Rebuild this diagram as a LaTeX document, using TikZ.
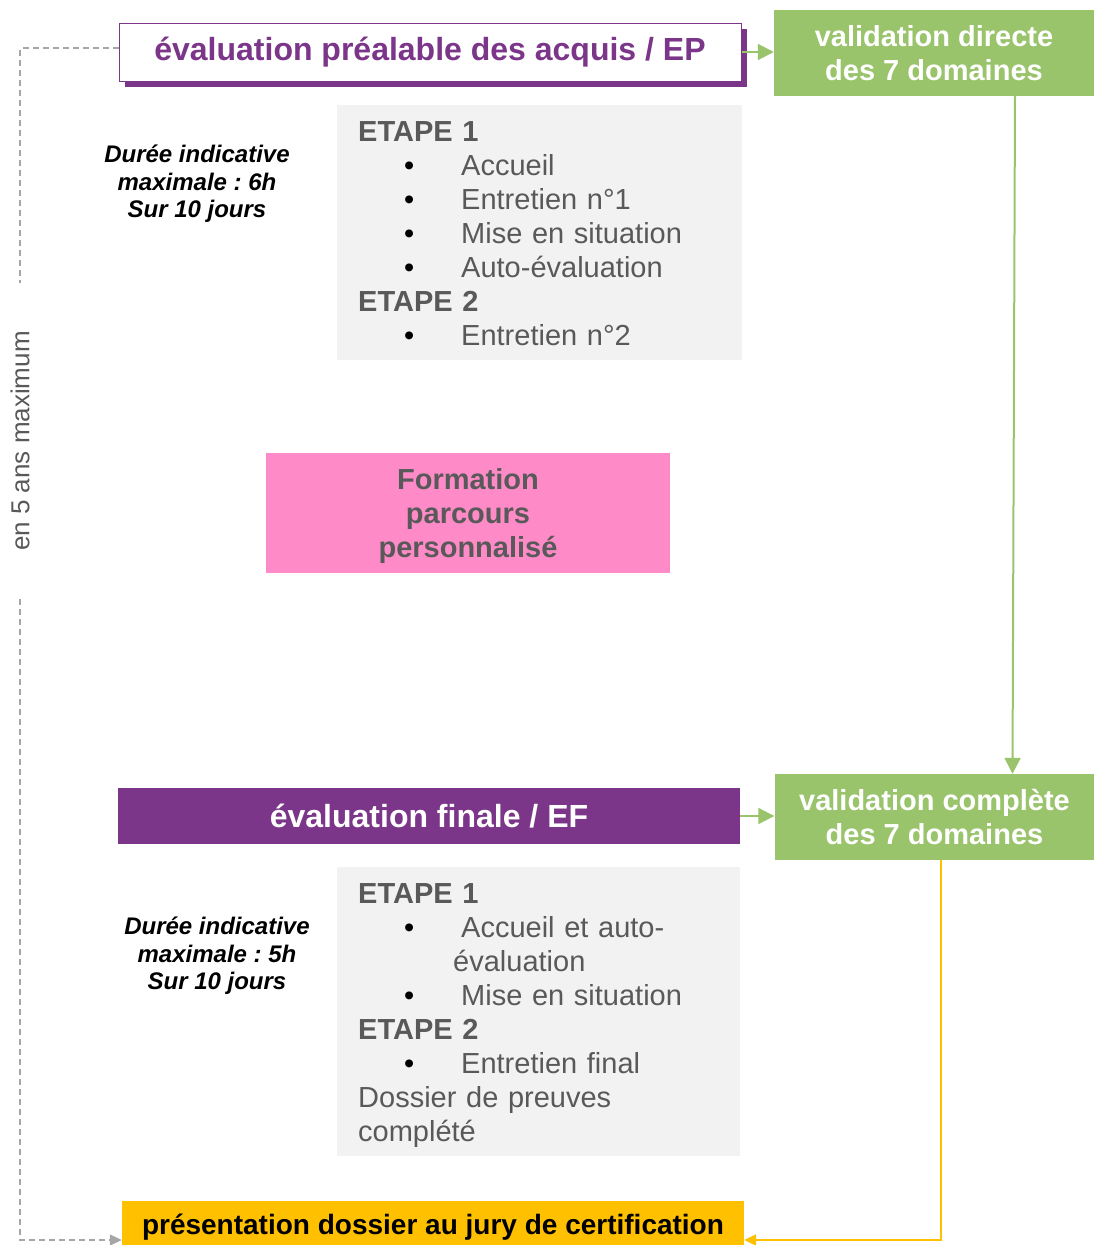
\documentclass[tikz,border=0pt]{standalone}
\usepackage{fontspec}
\setmainfont{Liberation Sans}
\usetikzlibrary{arrows.meta,shadows}
\frenchspacing

\definecolor{epurple}{HTML}{7B3589}
\definecolor{vgreen}{HTML}{9AC46B}
\definecolor{fpink}{HTML}{FF8AC8}
\definecolor{jyellow}{HTML}{FFC000}
\definecolor{boxgray}{HTML}{F2F2F2}
\definecolor{textgray}{HTML}{595959}
\definecolor{dashgray}{HTML}{A6A6A6}

\def\boxwidth{622pt}
\def\puce{\hspace*{46pt}\makebox[57pt][l]{\textcolor{black}{\textbullet}}}

\begin{document}
\begin{tikzpicture}[x=1pt,y=-1pt]
    \tikzstyle{box}=[rectangle,inner sep=0pt,align=center,font=\bfseries\fontsize{29pt}{34pt}\selectfont]
    \tikzstyle{title box}=[box,minimum width=\boxwidth,font=\bfseries\fontsize{32pt}{38pt}\selectfont]
    \tikzstyle{ep box}=[title box,fill=white,draw=epurple,line width=1pt,text=epurple,minimum height=58pt,
        drop shadow={shadow xshift=6pt,shadow yshift=-6pt,fill=epurple,opacity=1}]
    \tikzstyle{ef box}=[title box,fill=epurple,text=white,minimum height=56pt]
    \tikzstyle{valid box}=[box,fill=vgreen,text=white,minimum width=320pt,minimum height=86pt]
    \tikzstyle{etape box}=[rectangle,fill=boxgray,minimum width=405pt,inner sep=0pt]
    \tikzstyle{etape text}=[anchor=north west,inner sep=0pt,text width=380pt,align=left,text=textgray,
        font=\fontsize{29pt}{34pt}\selectfont]
    \tikzstyle{duree}=[align=center,inner sep=0pt,font=\bfseries\itshape\fontsize{24pt}{27.5pt}\selectfont]
    \tikzstyle{green arrow}=[draw=vgreen,line width=2pt,-{Triangle[length=16pt,width=16pt]}]
    \tikzstyle{yellow arrow}=[draw=jyellow,line width=2pt,-{Triangle[length=12pt,width=11pt]}]
    \tikzstyle{dashed line}=[draw=dashgray,line width=1.2pt,dash pattern=on 6pt off 4pt]

    \useasboundingbox (0,0) rectangle (1094,1245);

    % Draw the evaluation boxes
    \node[ep box] (ep) at (430,52) {évaluation préalable des acquis / EP};
    \node[ef box] (ef) at (429,816) {évaluation finale / EF};

    % Draw the validation boxes
    \node[valid box] (vd) at (934,53) {validation directe\\des 7 domaines};
    \node[valid box] (vc) at (934.5,817) {validation complète\\des 7 domaines};

    % Draw the steps of each evaluation
    \node[etape box,minimum height=255pt] (g1) at (539.5,232.5) {};
    \node[etape text] (e1) at (358,121) {\textbf{ETAPE 1}\\
        \puce Accueil\\
        \puce Entretien n°1\\
        \puce Mise en situation\\
        \puce Auto-évaluation\\
        \textbf{ETAPE 2}\\
        \puce Entretien n°2};
    \node[etape box,minimum height=289pt,minimum width=403pt] (g2) at (538.5,1011.5) {};
    \node[etape text] (e2) at (358,883) {\textbf{ETAPE 1}\\
        \puce Accueil et auto-\\
        \hspace*{95pt}évaluation\\
        \puce Mise en situation\\
        \textbf{ETAPE 2}\\
        \puce Entretien final\\
        Dossier de preuves\\
        complété};

    % Annotate the durations
    \node[duree] (d1) at (197,184) {Durée indicative\\maximale : 6h\\Sur 10 jours};
    \node[duree] (d2) at (217,956) {Durée indicative\\maximale : 5h\\Sur 10 jours};

    % Draw the training and the jury
    \node[box,fill=fpink,text=textgray,minimum width=404pt,minimum height=120pt,text depth=0pt] (fp) at (468,513)
        {Formation\\parcours\\personnalisé};
    \node[box,fill=jyellow,text=black,minimum width=\boxwidth,minimum height=52pt,
        font=\bfseries\fontsize{28pt}{33pt}\selectfont] (yj) at (433,1227)
        {présentation dossier au jury de certification};

    % Connect the evaluations with the validations
    \foreach \source / \dest in {ep/vd,ef/vc}
        \draw[green arrow] (\source.east) -- (\source.east -| \dest.west);
    \draw[green arrow] ([xshift=81pt]vd.south) -- ([xshift=78pt]vc.north);
    \draw[yellow arrow] ([xshift=6pt]vc.south) |- ([yshift=-13pt]yj.east);

    % Draw the five years line
    \node[rotate=90,inner xsep=48pt,inner ysep=2pt,text=textgray,
        font=\fontsize{26pt}{30pt}\selectfont] (ans) at (20,441) {en 5 ans maximum};
    \draw[dashed line] ([yshift=4pt]ep.west) -| (ans.east);
    \draw[dashed line,-{Triangle[length=12pt,width=11pt]}] (ans.west) |- ([yshift=-13pt]yj.west);
\end{tikzpicture}
\end{document}
